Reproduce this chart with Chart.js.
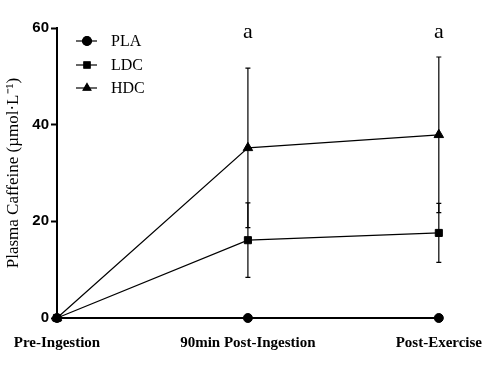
<!DOCTYPE html>
<html>
<head>
<meta charset="utf-8">
<script src="https://cdn.jsdelivr.net/npm/chart.js@4/dist/chart.umd.min.js"></script>
<style>
  html, body { margin: 0; padding: 0; background: #fff; }
  #wrap { width: 490px; height: 372px; }
</style>
</head>
<body>
<div id="wrap"><canvas id="myChart" width="490" height="372"></canvas></div>
<script>
// data
const timepoints = ['Pre-Ingestion', '90min Post-Ingestion', 'Post-Exercise'];
const plaMean = [0, 0, 0];
const ldcMean = [0, 16.1, 17.6];
const ldcSd = [0, 7.7, 6.1];
const hdcMean = [0, 35.2, 37.9];
const hdcSd = [0, 16.5, 16.1];
const sigMarks = ['', 'a', 'a'];
const yTicks = [0, 20, 40, 60];

const serif = '"Liberation Serif", "Times New Roman", serif';
const sans = '"Liberation Sans", Arial, sans-serif';

// vertical SD bars with small caps
const errorBars = {
  id: 'errorBars',
  afterDatasetsDraw(chart) {
    const ctx = chart.ctx;
    const y = chart.scales.y;
    ctx.save();
    ctx.strokeStyle = '#000';
    ctx.lineWidth = 1.2;
    chart.data.datasets.forEach((ds, i) => {
      if (!ds.sd) return;
      const meta = chart.getDatasetMeta(i);
      meta.data.forEach((pt, j) => {
        const sd = ds.sd[j];
        if (!sd) return;
        const top = y.getPixelForValue(ds.data[j] + sd);
        const bot = y.getPixelForValue(ds.data[j] - sd);
        ctx.beginPath();
        ctx.moveTo(pt.x, top); ctx.lineTo(pt.x, bot);
        ctx.moveTo(pt.x - 2.5, top); ctx.lineTo(pt.x + 2.5, top);
        ctx.moveTo(pt.x - 2.5, bot); ctx.lineTo(pt.x + 2.5, bot);
        ctx.stroke();
      });
    });
    ctx.restore();
  }
};

// "a" letters + legend box drawn top-left inside the plot
const extras = {
  id: 'extras',
  afterDraw(chart) {
    const ctx = chart.ctx;
    const x = chart.scales.x;
    ctx.save();
    ctx.fillStyle = '#000';
    ctx.font = '22px ' + serif;
    ctx.textAlign = 'center';
    ctx.textBaseline = 'alphabetic';
    sigMarks.forEach((m, i) => {
      if (m) ctx.fillText(m, x.getPixelForValue(i), 38);
    });

    const rows = [41, 65, 88];
    const styles = ['circle', 'rect', 'triangle'];
    const labels = chart.data.datasets.map(d => d.label);
    ctx.font = '16px ' + serif;
    ctx.textAlign = 'left';
    ctx.textBaseline = 'middle';
    rows.forEach((ry, i) => {
      ctx.strokeStyle = '#000';
      ctx.lineWidth = 1.2;
      ctx.beginPath();
      ctx.moveTo(76, ry); ctx.lineTo(97, ry);
      ctx.stroke();
      Chart.helpers.drawPoint(ctx, { pointStyle: styles[i], radius: 4.5, borderWidth: 1 }, 87, ry);
      ctx.fill();
      ctx.fillText(labels[i], 111, ry + 1);
    });
    ctx.restore();
  }
};

const ctx = document.getElementById('myChart').getContext('2d');

const makeSet = (label, data, sd, style, r) => ({
  label: label,
  data: data,
  sd: sd,
  borderColor: '#000',
  backgroundColor: '#000',
  borderWidth: 1.2,
  pointStyle: style,
  pointRadius: r,
  pointBackgroundColor: '#000',
  pointBorderColor: '#000',
  pointBorderWidth: 1,
  clip: false
});

const myChart = new Chart(ctx, {
  type: 'line',
  data: {
    labels: timepoints,
    datasets: [
      makeSet('PLA', plaMean, null, 'circle', 4.5),
      makeSet('LDC', ldcMean, ldcSd, 'rect', 5),
      makeSet('HDC', hdcMean, hdcSd, 'triangle', 5.5)
    ]
  },
  options: {
    responsive: false,
    animation: false,
    layout: { padding: { top: 28, right: 49, left: 0, bottom: 0 } },
    plugins: {
      legend: { display: false },
      tooltip: { enabled: false }
    },
    scales: {
      x: {
        offset: false,
        grid: { display: false },
        border: { display: true, color: '#000', width: 2 },
        ticks: {
          color: '#000',
          padding: 8,
          maxRotation: 0,
          autoSkip: false,
          font: { family: serif, size: 15, weight: 'bold' }
        },
        afterFit: (s) => { s.height = 54; }
      },
      y: {
        min: 0,
        max: 60,
        afterBuildTicks: (s) => { s.ticks = yTicks.map(v => ({ value: v })); },
        grid: { drawOnChartArea: false, tickLength: 6, tickWidth: 2, tickColor: '#000' },
        border: { display: true, color: '#000', width: 2 },
        ticks: {
          color: '#000',
          padding: 2,
          font: { family: sans, size: 15, weight: 'bold' }
        },
        title: {
          display: true,
          text: 'Plasma Caffeine (µmol·L⁻¹)',
          color: '#000',
          padding: { top: 3, bottom: 0 },
          font: { family: serif, size: 17 }
        },
        afterFit: (s) => { s.width = 57; }
      }
    }
  },
  plugins: [errorBars, extras]
});
</script>
</body>
</html>
